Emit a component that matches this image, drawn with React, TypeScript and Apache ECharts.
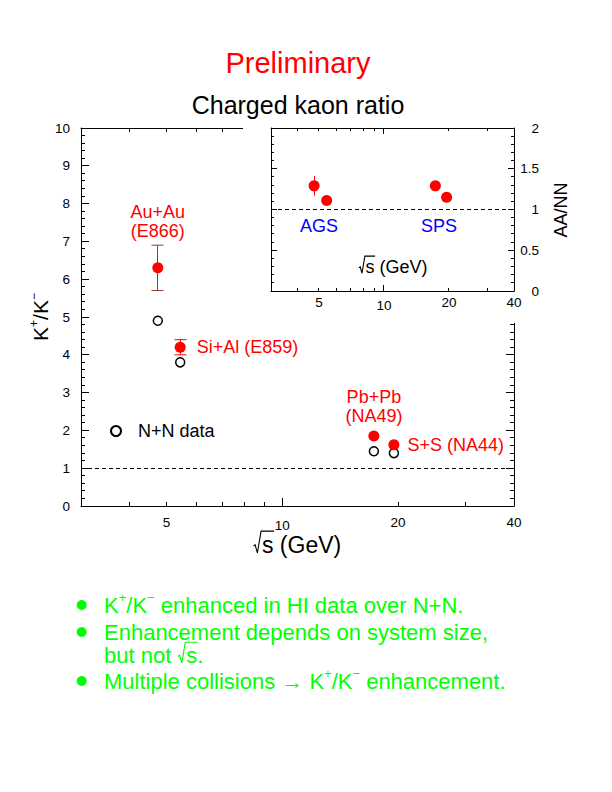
import React, { useEffect, useRef } from 'react';
import * as echarts from 'echarts';

const FONT = '"Liberation Sans", Arial, Helvetica, sans-serif';

// ---- data ----
const systems = ['Au+Au', 'Si+Al', 'Pb+Pb', 'S+S'];
const experiments = ['E866', 'E859', 'NA49', 'NA44'];
const sqrtS = [4.75, 5.43, 17.3, 19.5];
const aaRatio = [6.3, 4.2, 1.85, 1.62];
const aaErr = [0.6, 0.2, 0, 0];
const nnRatio = [4.9, 3.8, 1.45, 1.4];
const aaOverNN = [1.29, 1.11, 1.29, 1.15];
const aaOverNNErr = [0.12, 0, 0, 0];
const xLabelValues = [5, 10, 20, 40];
const xMinorTickValues = [4, 5, 6, 7, 8, 9, 20, 30];
const xMajorTickValues = [10];
const xRange = [3, 40];
const mainYRange = [0, 10];
const mainYInterval = 1;
const insetYRange = [0, 2];
const insetYInterval = 0.5;
const minorSplit = 5;
const regionNames = ['AGS', 'SPS'];
const bulletLines = [
  '{t|K}{s|+}{t|/K}{s|−}{t| enhanced in HI data over N+N.}',
  '{t|Enhancement depends on system size,}',
  '',
  '{t|Multiple collisions → K}{s|+}{t|/K}{s|−}{t| enhancement.}',
];

const L = (v: number) => Math.log10(v);

let _ctx: CanvasRenderingContext2D | null = null;
function tw(text: string, fs: number) {
  if (!_ctx) _ctx = document.createElement('canvas').getContext('2d');
  _ctx!.font = `${fs}px "Liberation Sans"`;
  return _ctx!.measureText(text).width;
}

function txt(x: number, y: number, text: string, fs: number, color: string, align = 'center', extra: any = {}) {
  return {
    type: 'text',
    x,
    y,
    z: 20,
    silent: true,
    style: {
      text,
      fontSize: fs,
      fontFamily: FONT,
      fill: color,
      align,
      textAlign: align,
      verticalAlign: 'middle',
      textVerticalAlign: 'middle',
      ...extra,
    },
  };
}

// text containing a drawn radical sign over "s"
function sqrtText(x: number, y: number, fs: number, color: string, before: string, after: string, center: boolean, lh: number) {
  const wb = before ? tw(before, fs) : 0;
  const rw = 0.4 * fs;
  const ws = tw('s', fs);
  const wa = tw(after, fs);
  const total = wb + rw + ws + wa;
  const x0 = center ? x - total / 2 : x;
  const b = y + 0.3465 * fs;
  const r0 = x0 + wb;
  const els: any[] = [];
  if (before) els.push(txt(x0, y, before, fs, color, 'left', { lineHeight: lh }));
  els.push(txt(r0 + rw, y, 's' + after, fs, color, 'left', { lineHeight: lh }));
  els.push({
    type: 'polyline',
    z: 20,
    silent: true,
    shape: {
      points: [
        [r0 + 0.03 * fs, b - 0.3 * fs],
        [r0 + 0.1 * fs, b - 0.36 * fs],
        [r0 + 0.2 * fs, b],
        [r0 + 0.36 * fs, b - 0.95 * fs],
        [r0 + rw + ws + 0.5, b - 0.95 * fs],
      ],
    },
    style: { stroke: color, lineWidth: 1.1, fill: null },
  });
  return els;
}

function xAxesFor(gridIndex: number, labelMargin: number, labelSize: number, tenShift: number, z: number) {
  const base = {
    type: 'value',
    gridIndex,
    min: L(xRange[0]),
    max: L(xRange[1]),
    z,
    splitLine: { show: false },
    axisTick: { show: false },
    axisLine: { show: true, onZero: false, lineStyle: { color: '#000', width: 1 } },
  };
  return [
    {
      ...base,
      position: 'bottom',
      axisLabel: {
        show: true,
        customValues: xLabelValues.map(L),
        margin: labelMargin,
        fontSize: labelSize,
        fontFamily: FONT,
        color: '#000',
        formatter: (v: number) => {
          const n = Math.round(Math.pow(10, v));
          return n === 10 ? '{d|10}' : String(n);
        },
        rich: { d: { fontSize: labelSize, fontFamily: FONT, color: '#000', padding: [tenShift, 0, 0, 0] } },
      },
    },
    { ...base, position: 'top', axisLabel: { show: false } },
  ];
}

function yAxisFor(gridIndex: number, position: string, range: number[], interval: number, z: number, label: any) {
  return {
    type: 'value',
    gridIndex,
    position,
    min: range[0],
    max: range[1],
    interval,
    z,
    splitLine: { show: false },
    axisLine: { show: true, onZero: false, lineStyle: { color: '#000', width: 1 } },
    axisTick: { show: false },
    minorTick: { show: false },
    axisLabel: label,
  };
}

// tick marks drawn on all four edges of a grid through the axes' own coordinates
function tickData(yRange: number[], yInterval: number, minorLen: number, majorLen: number) {
  const d: number[][] = [];
  xMinorTickValues.forEach((v) => d.push([0, L(v), minorLen]));
  xMajorTickValues.forEach((v) => d.push([0, L(v), majorLen]));
  const step = yInterval / minorSplit;
  const n = Math.round((yRange[1] - yRange[0]) / step);
  for (let i = 1; i < n; i++) {
    d.push([1, yRange[0] + i * step, i % minorSplit === 0 ? majorLen : minorLen]);
  }
  return d;
}

function tickSeries(xAxisIndex: number, yAxisIndex: number, yRange: number[], data: number[][], z: number) {
  const px = (v: number) => Math.round(v - 0.5) + 0.5;
  return {
    type: 'custom',
    name: 'ticks' + xAxisIndex,
    xAxisIndex,
    yAxisIndex,
    z,
    silent: true,
    clip: false,
    encode: { x: 1, y: 2 },
    renderItem: (params: any, api: any) => {
      const kind = api.value(0);
      const v = api.value(1);
      const len = api.value(2);
      const st = { stroke: '#000', lineWidth: 1 };
      if (kind === 0) {
        const b = api.coord([v, yRange[0]]);
        const t = api.coord([v, yRange[1]]);
        const x = px(b[0]);
        return {
          type: 'group',
          children: [
            { type: 'line', shape: { x1: x, y1: b[1], x2: x, y2: b[1] - len }, style: st },
            { type: 'line', shape: { x1: x, y1: t[1], x2: x, y2: t[1] + len }, style: st },
          ],
        };
      }
      const l = api.coord([L(xRange[0]), v]);
      const r = api.coord([L(xRange[1]), v]);
      const y = px(l[1]);
      return {
        type: 'group',
        children: [
          { type: 'line', shape: { x1: l[0], y1: y, x2: l[0] + len, y2: y }, style: st },
          { type: 'line', shape: { x1: r[0], y1: y, x2: r[0] - len, y2: y }, style: st },
        ],
      };
    },
    data,
  };
}

const aaLabelLayout = [
  { position: 'top', distance: 22, twoLines: true },
  { position: 'right', distance: 11, twoLines: false },
  { position: 'top', distance: 5, twoLines: true },
  { position: 'right', distance: 8, twoLines: false },
];
const errColors = ['#993333', '#ff0000', '#ff0000', '#ff0000'];

function errorBarItem(capWidth: number, colorFor: (i: number) => string) {
  return (params: any, api: any) => {
    const x = api.value(0);
    const y = api.value(1);
    const e = api.value(2);
    const idx = api.value(3);
    const top = api.coord([x, y + e]);
    const bot = api.coord([x, y - e]);
    const color = colorFor(idx);
    const cx = Math.round(top[0] - 0.5) + 0.5;
    const children: any[] = [
      { type: 'line', shape: { x1: cx, y1: top[1], x2: cx, y2: bot[1] }, style: { stroke: color, lineWidth: 1 } },
    ];
    if (capWidth > 0) {
      children.push({ type: 'line', shape: { x1: cx - capWidth / 2, y1: top[1], x2: cx + capWidth / 2, y2: top[1] }, style: { stroke: color, lineWidth: 1 } });
      children.push({ type: 'line', shape: { x1: cx - capWidth / 2, y1: bot[1], x2: cx + capWidth / 2, y2: bot[1] }, style: { stroke: color, lineWidth: 1 } });
    }
    return { type: 'group', children };
  };
}

function buildOption() {
  const dashed = {
    silent: true,
    symbol: ['none', 'none'],
    label: { show: false },
    lineStyle: { type: [4, 3], color: '#000', width: 1 },
    data: [{ yAxis: 1 }],
  };

  const mainX = xAxesFor(0, 9, 13.5, 3, 0);
  const insetX = xAxesFor(1, 4, 13.5, 3, 6);

  const yLabelMain = { show: true, margin: 11, fontSize: 13.5, fontFamily: FONT, color: '#000' };
  const yLabelInset = { show: true, margin: 25, align: 'right', fontSize: 13.5, fontFamily: FONT, color: '#000' };

  const graphics: any[] = [
    { type: 'rect', z: 5, silent: true, shape: { x: 243, y: 116, width: 273, height: 207 }, style: { fill: '#fff' } },
    txt(298, 63, 'Preliminary', 29, '#ff0000'),
    txt(298, 105, 'Charged kaon ratio', 25, '#000'),
    {
      type: 'text',
      x: 40,
      y: 317,
      rotation: Math.PI / 2,
      z: 20,
      silent: true,
      style: {
        text: '{b|K}{s|+}{b|/K}{s|−}',
        align: 'center',
        textAlign: 'center',
        verticalAlign: 'middle',
        textVerticalAlign: 'middle',
        fontSize: 21,
        fontFamily: FONT,
        fill: '#000',
        rich: {
          b: { fontSize: 21, fontFamily: FONT, fill: '#000', color: '#000', lineHeight: 24 },
          s: { fontSize: 12, fontFamily: FONT, fill: '#000', color: '#000', lineHeight: 12, verticalAlign: 'top' },
        },
      },
    },
    ...sqrtText(297, 545, 23, '#000', '', ' (GeV)', true, 24),
    ...sqrtText(393, 267, 18, '#000', '', ' (GeV)', true, 20),
    txt(319, 226, regionNames[0], 18, '#0000ff'),
    txt(439, 226, regionNames[1], 18, '#0000ff'),
    {
      type: 'text',
      x: 561,
      y: 210,
      rotation: Math.PI / 2,
      z: 20,
      silent: true,
      style: {
        text: 'AA/NN',
        fontSize: 18,
        fontFamily: FONT,
        fill: '#000',
        align: 'center',
        textAlign: 'center',
        verticalAlign: 'middle',
        textVerticalAlign: 'middle',
      },
    },
  ];

  const green = '#00ff00';
  const bulletY = [605, 632, 655.5, 681];
  const bulletDot = [true, true, false, true];
  const richFor = (lh: number) => ({
    t: { fontSize: 22, fontFamily: FONT, fill: green, color: green, lineHeight: lh },
    s: { fontSize: 13, fontFamily: FONT, fill: green, color: green, lineHeight: 12, verticalAlign: 'top' },
  });
  bulletLines.forEach((line, i) => {
    if (bulletDot[i]) {
      graphics.push({ type: 'circle', z: 20, silent: true, shape: { cx: 81.7, cy: bulletY[i], r: 5 }, style: { fill: green } });
    }
    if (line) {
      const lh = line.includes('{s|') ? 28 : 18;
      graphics.push(txt(104, bulletY[i], line, 22, green, 'left', { rich: richFor(lh), lineHeight: lh }));
    }
  });
  graphics.push(...sqrtText(104, bulletY[2], 22, green, 'but not ', '.', false, 18));

  return {
    animation: false,
    backgroundColor: '#fff',
    textStyle: { fontFamily: FONT },
    grid: [
      { left: 81, top: 128, width: 433, height: 378 },
      { left: 271, top: 128, width: 243, height: 163 },
    ],
    legend: {
      data: [{ name: 'N+N data', icon: 'circle' }],
      left: 110,
      top: 421,
      padding: 0,
      itemWidth: 34,
      itemHeight: 10,
      selectedMode: false,
      textStyle: { fontSize: 18, fontFamily: FONT, color: '#000', lineHeight: 20 },
    },
    xAxis: [...mainX, ...insetX],
    yAxis: [
      yAxisFor(0, 'left', mainYRange, mainYInterval, 0, yLabelMain),
      yAxisFor(0, 'right', mainYRange, mainYInterval, 0, { show: false }),
      yAxisFor(1, 'right', insetYRange, insetYInterval, 6, yLabelInset),
      yAxisFor(1, 'left', insetYRange, insetYInterval, 6, { show: false }),
    ],
    graphic: { elements: graphics },
    series: [
      tickSeries(0, 0, mainYRange, tickData(mainYRange, mainYInterval, 4, 8), 1),
      tickSeries(2, 2, insetYRange, tickData(insetYRange, insetYInterval, 3, 6), 7),
      {
        type: 'custom',
        name: 'AA error',
        xAxisIndex: 0,
        yAxisIndex: 0,
        z: 2,
        silent: true,
        renderItem: errorBarItem(12, (i) => errColors[i]),
        data: sqrtS.map((x, i) => [L(x), aaRatio[i], aaErr[i], i]).filter((d) => d[2] > 0),
      },
      {
        type: 'scatter',
        name: 'N+N data',
        xAxisIndex: 0,
        yAxisIndex: 0,
        z: 3,
        symbol: 'circle',
        symbolSize: 9,
        itemStyle: { color: '#fff', borderColor: '#000', borderWidth: 1.5, opacity: 1 },
        data: sqrtS.map((x, i) => [L(x), nnRatio[i]]),
        markLine: dashed,
      },
      {
        type: 'scatter',
        name: 'AA',
        xAxisIndex: 0,
        yAxisIndex: 0,
        z: 4,
        symbol: 'circle',
        symbolSize: 11,
        itemStyle: { color: '#ff0000', opacity: 1 },
        data: sqrtS.map((x, i) => {
          const lay = aaLabelLayout[i];
          return {
            value: [L(x), aaRatio[i]],
            label: {
              show: true,
              position: lay.position,
              distance: lay.distance,
              align: lay.twoLines ? 'center' : 'left',
              formatter: lay.twoLines ? `${systems[i]}\n(${experiments[i]})` : `${systems[i]} (${experiments[i]})`,
              color: '#ff0000',
              fontSize: 18,
              fontFamily: FONT,
              lineHeight: 19,
            },
          };
        }),
      },
      {
        type: 'custom',
        name: 'ratio error',
        xAxisIndex: 2,
        yAxisIndex: 2,
        z: 8,
        silent: true,
        renderItem: errorBarItem(0, () => '#ff0000'),
        data: sqrtS.map((x, i) => [L(x), aaOverNN[i], aaOverNNErr[i], i]).filter((d) => d[2] > 0),
      },
      {
        type: 'scatter',
        name: 'AA/NN',
        xAxisIndex: 2,
        yAxisIndex: 2,
        z: 9,
        symbol: 'circle',
        symbolSize: 11,
        itemStyle: { color: '#ff0000', opacity: 1 },
        data: sqrtS.map((x, i) => [L(x), aaOverNN[i]]),
        markLine: { ...dashed, z: 8 },
      },
    ],
  };
}

export default function App() {
  const ref = useRef<HTMLDivElement>(null);
  useEffect(() => {
    if (!ref.current) return;
    const chart = echarts.init(ref.current, null, { renderer: 'svg' });
    chart.setOption(buildOption() as any);
    return () => chart.dispose();
  }, []);
  return (
    <div
      ref={ref}
      style={{ position: 'absolute', left: 0, top: 0, width: 612, height: 792, background: '#fff' }}
    />
  );
}
